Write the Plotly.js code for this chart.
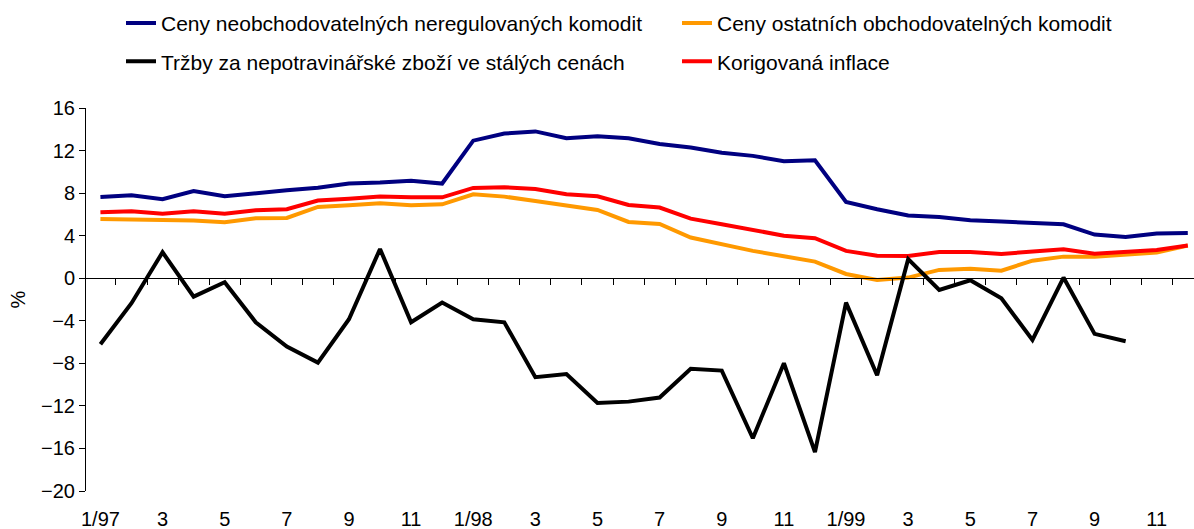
<!DOCTYPE html>
<html>
<head>
<meta charset="utf-8">
<script src="https://cdn.plot.ly/plotly-3.0.1.min.js"></script>
<style>html,body{margin:0;padding:0;background:#fff;}#chart{width:1194px;height:529px;}</style>
</head>
<body>
<div id="chart"></div>
<script>
// Months 1/97 .. 12/99 (index 0..35)
const months = [
  "1/97","2/97","3/97","4/97","5/97","6/97","7/97","8/97","9/97","10/97","11/97","12/97",
  "1/98","2/98","3/98","4/98","5/98","6/98","7/98","8/98","9/98","10/98","11/98","12/98",
  "1/99","2/99","3/99","4/99","5/99","6/99","7/99","8/99","9/99","10/99","11/99","12/99"
];
const tickIdx = [0,2,4,6,8,10,12,14,16,18,20,22,24,26,28,30,32,34];
const tickText = ["1/97","3","5","7","9","11","1/98","3","5","7","9","11","1/99","3","5","7","9","11"];
const boundaryTicks = [0.5,1.5,2.5,3.5,4.5,5.5,6.5,7.5,8.5,9.5,10.5,11.5,12.5,13.5,14.5,15.5,16.5,17.5,
  18.5,19.5,20.5,21.5,22.5,23.5,24.5,25.5,26.5,27.5,28.5,29.5,30.5,31.5,32.5,33.5,34.5];

const neobchodovatelne = [7.64,7.8,7.42,8.2,7.7,8.0,8.27,8.5,8.9,9.0,9.17,8.9,
  12.93,13.6,13.8,13.15,13.34,13.15,12.62,12.28,11.8,11.5,11.0,11.09,
  7.17,6.48,5.89,5.76,5.45,5.32,5.23,5.07,4.1,3.88,4.2,4.26];
const obchodovatelne = [5.57,5.51,5.48,5.42,5.26,5.64,5.67,6.7,6.86,7.05,6.86,6.95,
  7.89,7.67,7.26,6.83,6.42,5.29,5.1,3.82,3.16,2.57,2.07,1.56,
  0.4,-0.16,0.06,0.78,0.9,0.71,1.65,2.03,2.03,2.26,2.41,3.07];
const trzby = [-6.2,-2.35,2.44,-1.73,-0.38,-4.14,-6.43,-7.93,-3.86,2.75,-4.14,-2.29,
  -3.86,-4.14,-9.3,-9.0,-11.72,-11.6,-11.22,-8.52,-8.68,-15.04,-7.99,-16.35,
  -2.29,-9.12,1.79,-1.1,-0.19,-1.88,-5.8,0.06,-5.23,-5.92];
const korigovana = [6.2,6.3,6.07,6.3,6.07,6.39,6.48,7.3,7.48,7.67,7.6,7.6,
  8.49,8.55,8.39,7.89,7.7,6.89,6.64,5.6,5.07,4.5,4.0,3.76,
  2.57,2.12,2.1,2.47,2.47,2.28,2.53,2.72,2.31,2.53,2.66,3.07];

const idx = months.map((m,i)=>i);
const FONT = "Liberation Sans, Arial, sans-serif";

const traces = [
  {x: idx, y: neobchodovatelne, type:"scatter", mode:"lines", name:"Ceny neobchodovatelných neregulovaných komodit",
   line:{color:"#000080", width:4}, legend:"legend", text: months, hoverinfo:"text+y"},
  {x: idx, y: obchodovatelne, type:"scatter", mode:"lines", name:"Ceny ostatních obchodovatelných komodit",
   line:{color:"#FF9900", width:4}, legend:"legend", text: months, hoverinfo:"text+y"},
  {x: idx.slice(0, trzby.length), y: trzby, type:"scatter", mode:"lines", name:"Tržby za nepotravinářské zboží ve stálých cenách",
   line:{color:"#000000", width:4}, legend:"legend2", xaxis:"x2", text: months, hoverinfo:"text+y"},
  {x: idx, y: korigovana, type:"scatter", mode:"lines", name:"Korigovaná inflace",
   line:{color:"#FF0000", width:4}, legend:"legend2", text: months, hoverinfo:"text+y"}
];

const legendBase = {
  orientation:"h", xref:"container", yref:"container", xanchor:"left", yanchor:"middle",
  x: 121/1194, entrywidth: 511, entrywidthmode:"pixels", itemwidth:30,
  font:{family:FONT, size:21, color:"#000"}, bgcolor:"rgba(0,0,0,0)", borderwidth:0
};

const layout = {
  width:1194, height:529,
  margin:{l:86, r:0, t:108, b:38, pad:0},
  paper_bgcolor:"#fff", plot_bgcolor:"#fff",
  font:{family:FONT, size:20, color:"#000"},
  showlegend:true,
  legend: Object.assign({}, legendBase, {y: 1 - 23.3/529}),
  legend2: Object.assign({}, legendBase, {y: 1 - 61.7/529}),
  xaxis:{
    range:[-0.464, 35.2], tickmode:"array", tickvals: tickIdx, ticktext: tickText,
    ticks:"outside", ticklen:10, tickcolor:"rgba(0,0,0,0)",
    showline:false, showgrid:false, zeroline:false,
    tickfont:{family:FONT, size:20, color:"#000"}, fixedrange:true
  },
  xaxis2:{
    overlaying:"x", matches:"x", anchor:"free", position: 20/36,
    tickmode:"array", tickvals: boundaryTicks, ticks:"outside", ticklen:6, tickwidth:1, tickcolor:"#000",
    showticklabels:false, showline:true, linecolor:"#000", linewidth:1,
    showgrid:false, zeroline:false, fixedrange:true
  },
  yaxis:{
    range:[-20,16], tickmode:"array", tickvals:[-20,-16,-12,-8,-4,0,4,8,12,16],
    ticks:"outside", ticklen:6, tickwidth:1, tickcolor:"#000",
    showline:true, linecolor:"#000", linewidth:1, showgrid:false, zeroline:false,
    tickfont:{family:FONT, size:20, color:"#000"},
    title:{text:"%", font:{family:FONT, size:20, color:"#000"}, standoff:10},
    automargin:false, fixedrange:true
  }
};

Plotly.newPlot("chart", traces, layout, {displayModeBar:false, staticPlot:true});
</script>
</body>
</html>
